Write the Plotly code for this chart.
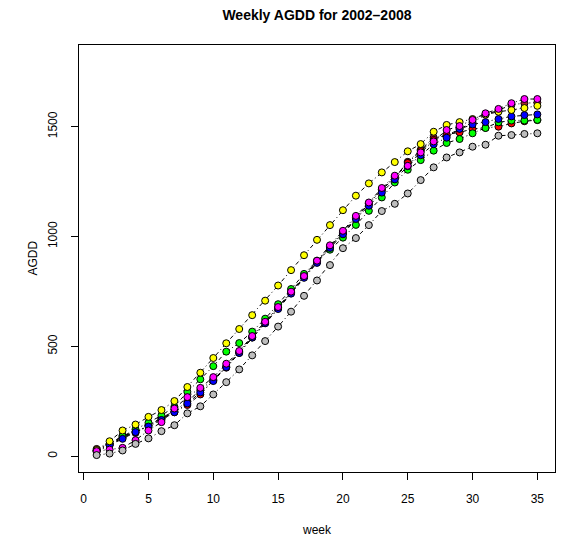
import plotly.graph_objects as go

weeks = list(range(1, 36))

years = ["2002", "2003", "2004", "2005", "2006", "2007", "2008"]
colors = ["#A52A2A", "#FF0000", "#00FF00", "#0000FF", "#FFFF00", "#FF00FF", "#BEBEBE"]

agdd_2002 = [33, 55, 94, 106, 140, 175, 205, 250, 300, 350, 403, 470, 540, 606, 674, 745, 818, 885, 955, 1015,
             1085, 1150, 1212, 1268, 1340, 1395, 1450, 1459, 1490, 1520, 1555, 1575, 1600, 1607, 1610]
agdd_2003 = [20, 50, 85, 110, 140, 170, 200, 233, 281, 345, 410, 475, 543, 610, 676, 746, 817, 885, 955, 1018,
             1088, 1150, 1215, 1272, 1335, 1390, 1440, 1465, 1474, 1490, 1495, 1500, 1515, 1525, 1530]
agdd_2004 = [25, 55, 90, 122, 152, 185, 225, 293, 350, 410, 476, 515, 567, 626, 692, 761, 830, 890, 940, 995,
             1053, 1117, 1178, 1246, 1304, 1348, 1391, 1426, 1444, 1470, 1494, 1520, 1528, 1528, 1531]
agdd_2005 = [25, 50, 79, 110, 135, 165, 200, 240, 290, 342, 405, 470, 540, 605, 670, 740, 812, 880, 948, 1010,
             1080, 1140, 1200, 1260, 1320, 1370, 1420, 1450, 1490, 1510, 1521, 1535, 1547, 1553, 1556]
agdd_2006 = [28, 68, 117, 144, 179, 210, 251, 315, 380, 447, 514, 579, 642, 708, 777, 847, 915, 985, 1052, 1120,
             1186, 1242, 1292, 1339, 1388, 1421, 1477, 1508, 1521, 1535, 1555, 1568, 1576, 1585, 1595]
agdd_2007 = [23, 30, 38, 73, 117, 155, 217, 269, 311, 360, 421, 479, 547, 612, 679, 749, 820, 890, 960, 1026,
             1094, 1155, 1221, 1277, 1322, 1383, 1433, 1485, 1503, 1531, 1561, 1581, 1607, 1626, 1626]
agdd_2008 = [5, 12, 26, 56, 81, 114, 141, 195, 227, 281, 337, 395, 459, 524, 590, 658, 730, 800, 870, 947,
             993, 1052, 1116, 1149, 1196, 1257, 1315, 1360, 1383, 1409, 1418, 1459, 1462, 1467, 1470]

series = [agdd_2002, agdd_2003, agdd_2004, agdd_2005, agdd_2006, agdd_2007, agdd_2008]

fig = go.Figure()
for yr, col, vals in zip(years, colors, series):
    fig.add_trace(go.Scatter(
        x=weeks, y=vals, name=yr, mode="lines+markers",
        line=dict(color="black", width=1, dash="4px,3px,1px,3px"),
        marker=dict(size=7, color=col, line=dict(color="black", width=1)),
        showlegend=False,
    ))

font = "Liberation Sans, Arial, Helvetica, sans-serif"

fig.update_layout(
    width=563, height=543,
    margin=dict(l=79, r=8, t=45, b=71),
    paper_bgcolor="white", plot_bgcolor="white",
    font=dict(family=font, size=12, color="black"),
    title=dict(text="<b>Weekly AGDD for 2002\u20132008</b>", x=0.563, xanchor="center",
               y=1 - 15 / 543, yanchor="middle", yref="container",
               font=dict(size=14, family=font, color="black")),
    xaxis=dict(range=[-0.36, 36.36], tickvals=list(range(0, 36, 5)), showgrid=False, zeroline=False,
               showline=True, mirror=True, linecolor="black", linewidth=1,
               ticks="outside", ticklen=7, tickcolor="black", ticklabelstandoff=9),
    yaxis=dict(range=[-72, 1872], tickvals=[0, 500, 1000, 1500], showgrid=False, zeroline=False,
               showline=True, mirror=True, linecolor="black", linewidth=1,
               ticks="outside", ticklen=7, tickcolor="black", tickangle=-90, ticklabelstandoff=9),
    annotations=[
        dict(text="week", x=0.5, y=530, xref="paper", yref="paper", showarrow=False,
             xanchor="center", yanchor="middle", font=dict(size=12)),
        dict(text="AGDD", x=32, y=0.5, xref="paper", yref="paper", showarrow=False,
             xanchor="center", yanchor="middle", textangle=-90, font=dict(size=12)),
    ],
)

# place axis titles in pixel terms relative to the plot area
plot_w = 563 - 79 - 8
plot_h = 543 - 45 - 71
fig.layout.annotations[0].y = -(530 - (543 - 71)) / plot_h
fig.layout.annotations[1].x = -(79 - 32) / plot_w

fig.write_html("out.html")
